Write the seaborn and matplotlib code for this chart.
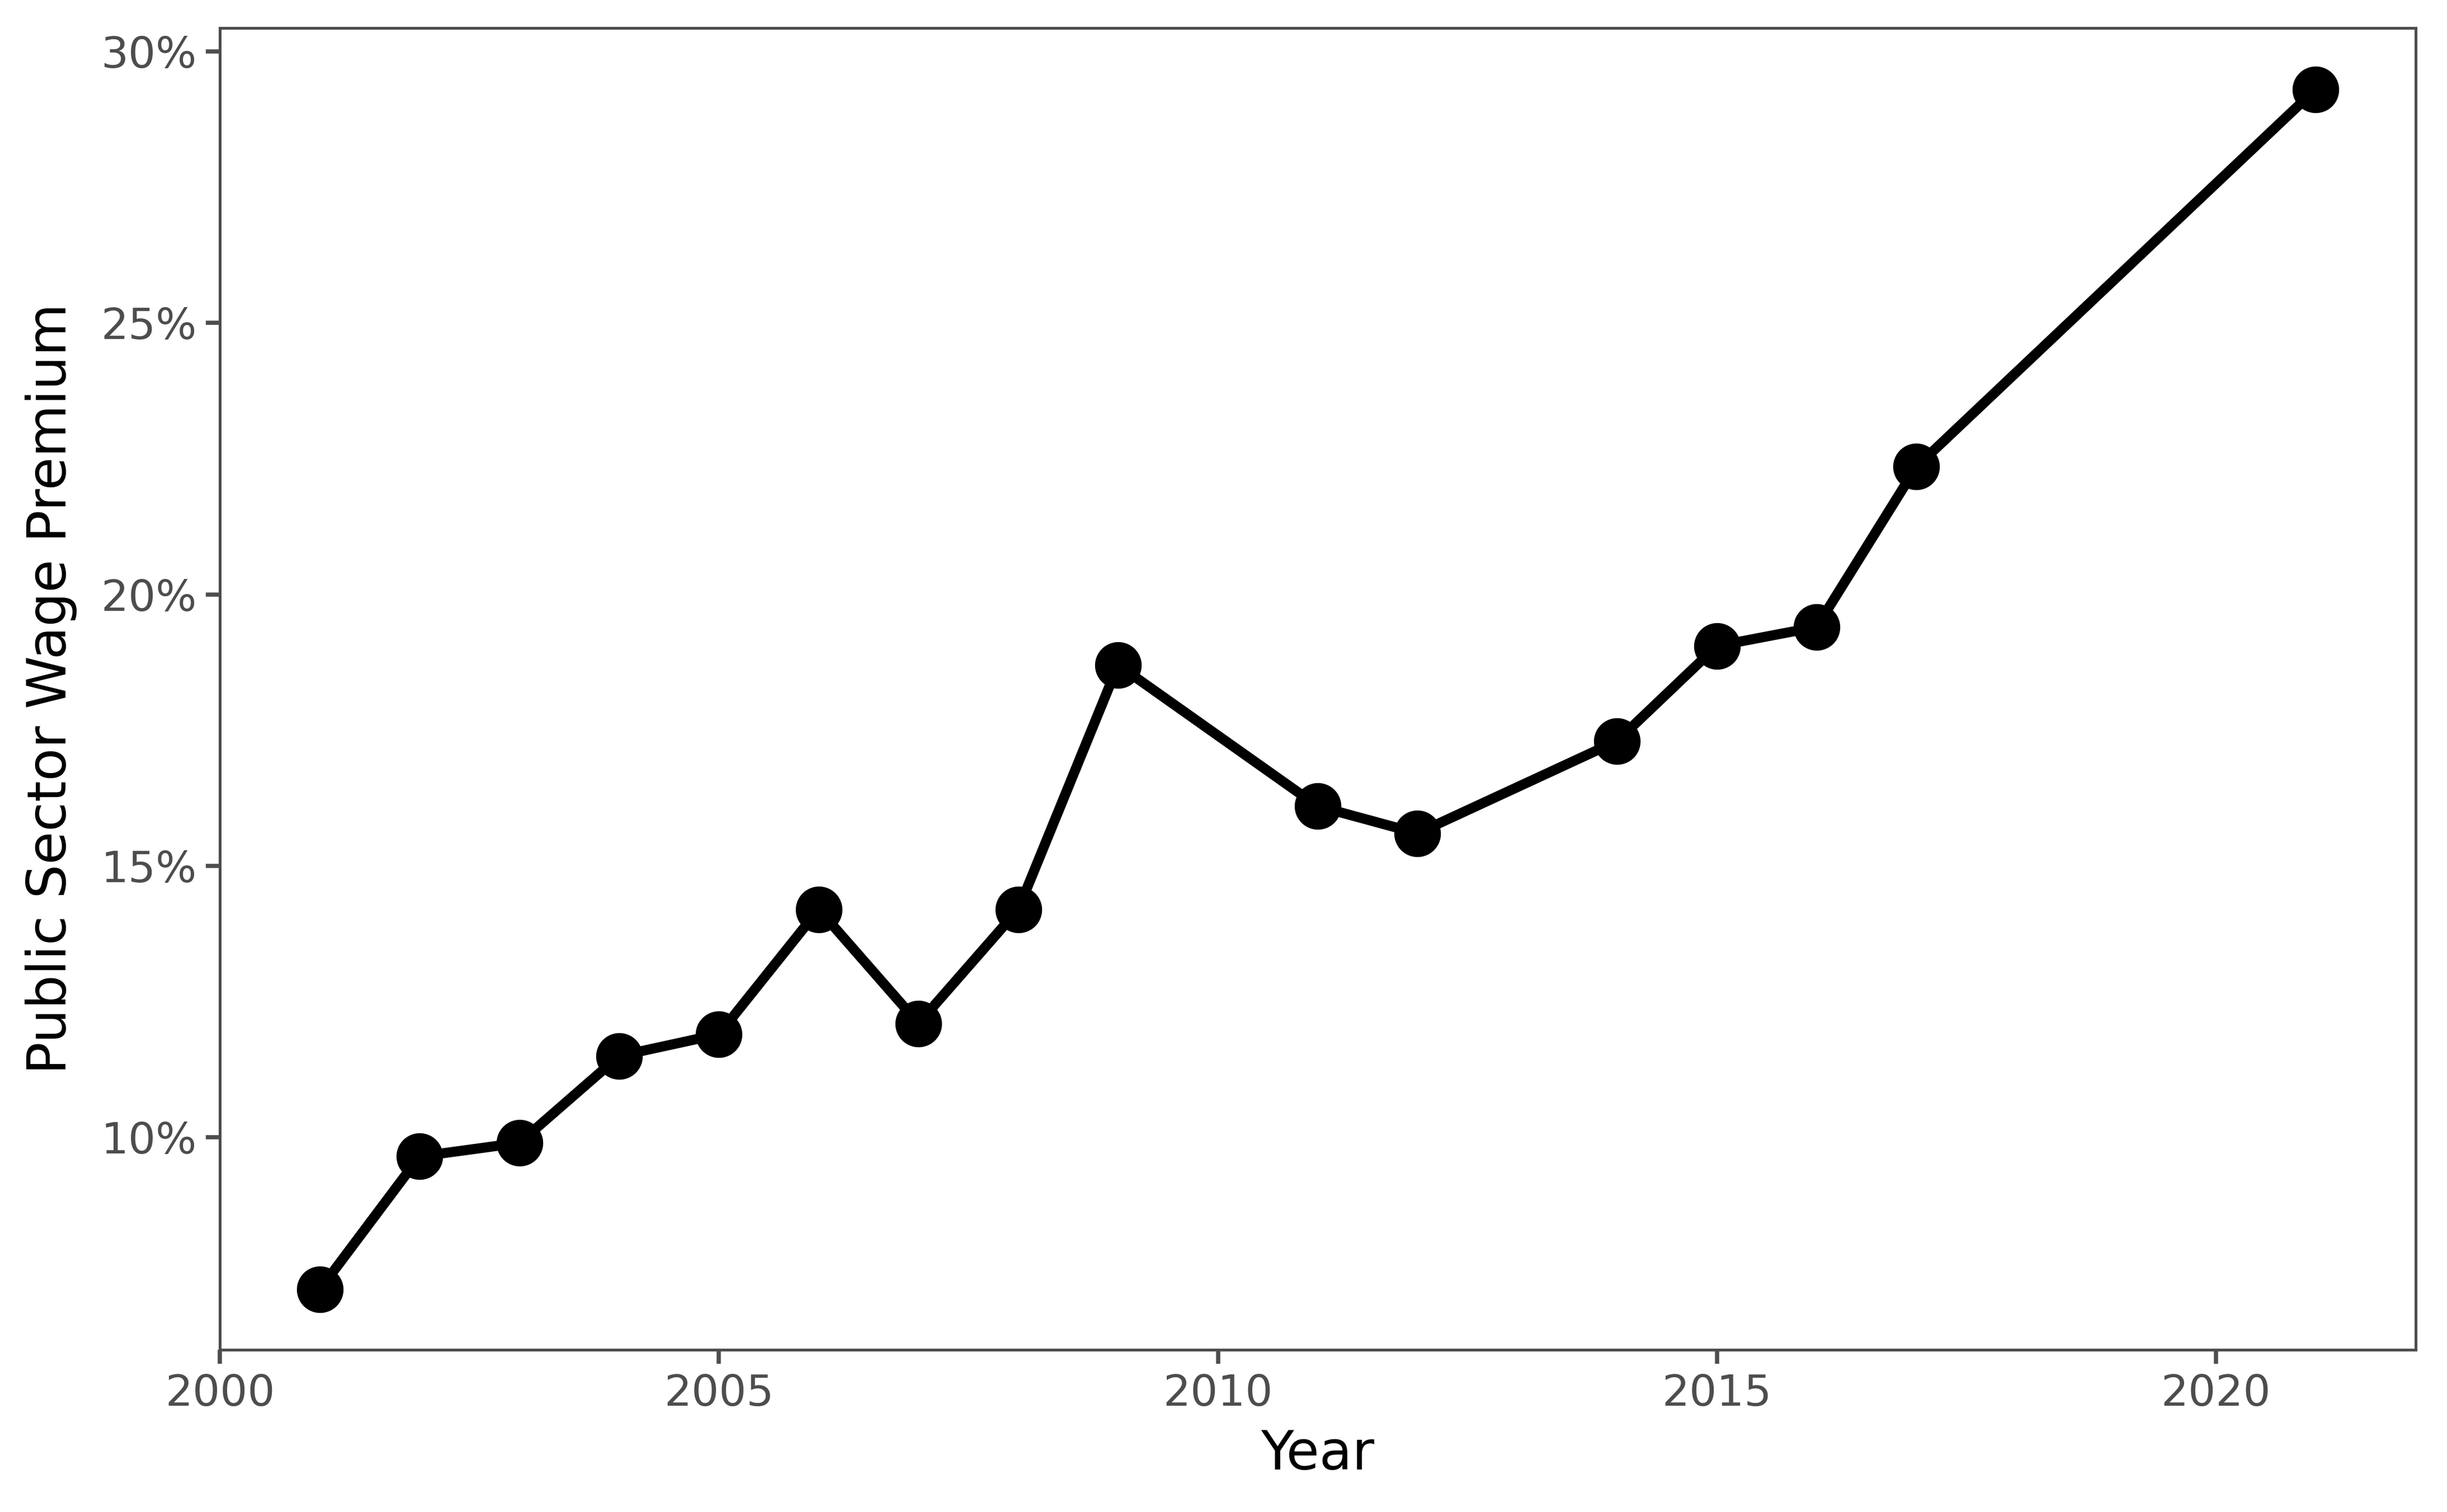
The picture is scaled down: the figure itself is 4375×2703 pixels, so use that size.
import seaborn as sns
import pandas as pd
import matplotlib
matplotlib.use("Agg")
import matplotlib.pyplot as plt
from matplotlib.ticker import PercentFormatter

# values
years = [2001, 2002, 2003, 2004, 2005, 2006, 2007, 2008, 2009,
         2011, 2012, 2014, 2015, 2016, 2017, 2021]
premium = [7.2, 9.65, 9.9, 11.5, 11.9, 14.2, 12.1, 14.2, 18.7,
           16.1, 15.6, 17.3, 19.05, 19.4, 22.35, 29.3]

df = pd.DataFrame({"Year": years, "Premium": premium})

sns.set_theme(style="white")
plt.rcParams['font.family'] = ['DejaVu Sans']

fig = plt.figure(figsize=(4375 / 300, 2703 / 300), dpi=300)
ax = fig.add_axes([0.0899, 0.1073, 0.9871 - 0.0899, 0.9815 - 0.1073])

sns.lineplot(data=df, x="Year", y="Premium", color="black", linewidth=4.3,
             marker="o", markersize=20, markeredgewidth=0, ax=ax)

ax.set_xlim(2000, 2022)
ax.set_ylim(6.09, 30.43)
ax.set_xticks([2000, 2005, 2010, 2015, 2020])
ax.set_yticks([10, 15, 20, 25, 30])
ax.yaxis.set_major_formatter(PercentFormatter(decimals=0))

ax.set_xlabel("Year", fontsize=23, color="black", labelpad=6)
ax.set_ylabel("Public Sector Wage Premium", fontsize=23, color="black", labelpad=10)
ax.tick_params(axis="both", which="major", labelsize=18.5, labelcolor="#4D4D4D",
               color="#4D4D4D", length=6, width=1.8, direction="out",
               bottom=True, left=True, pad=4)
for s in ax.spines.values():
    s.set_color("#4D4D4D")
    s.set_linewidth(1.2)
ax.grid(False)

fig.savefig("out.png", dpi=300)
